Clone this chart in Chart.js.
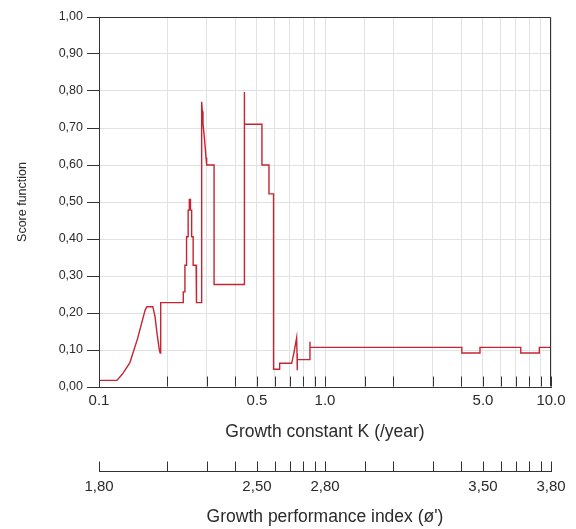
<!DOCTYPE html>
<html>
<head>
<meta charset="utf-8">
<script src="https://cdn.jsdelivr.net/npm/chart.js@4.4.1/dist/chart.umd.min.js"></script>
<style>
  html, body { margin: 0; padding: 0; background: #ffffff; }
  #wrap { width: 576px; height: 529px; position: relative; }
</style>
</head>
<body>
<div id="wrap"><canvas id="c" width="576" height="529"></canvas></div>
<script>
// Growth constant K (/year) along the curve
const kValues = [
  0.100, 0.120, 0.127, 0.137, 0.148, 0.160, 0.163, 0.173, 0.177, 0.181, 0.185, 0.1865,
  0.1875, 0.236, 0.236, 0.240, 0.240, 0.244, 0.244, 0.248, 0.248, 0.251,
  0.251, 0.254, 0.254, 0.257, 0.257, 0.261, 0.261, 0.269, 0.269, 0.2705, 0.2705,
  0.2846, 0.2846, 0.2865, 0.2885, 0.293, 0.2975, 0.2995, 0.323, 0.323,
  0.440, 0.440, 0.440, 0.526, 0.526, 0.565, 0.565, 0.592, 0.592,
  0.630, 0.630, 0.712, 0.730, 0.749, 0.752, 0.754, 0.754, 0.858, 0.858, 0.858,
  4.03, 4.03, 4.85, 4.85, 7.35, 7.35, 8.88, 8.88, 10.0
];
// Score function values matching kValues
const scoreValues = [
  0.018, 0.018, 0.035, 0.066, 0.130, 0.208, 0.217, 0.217, 0.190, 0.140, 0.100, 0.092,
  0.228, 0.228, 0.257, 0.257, 0.329, 0.329, 0.406, 0.406, 0.478, 0.478,
  0.507, 0.507, 0.478, 0.478, 0.406, 0.406, 0.329, 0.329, 0.257, 0.257, 0.228,
  0.228, 0.771, 0.745, 0.712, 0.670, 0.620, 0.600, 0.600, 0.277,
  0.277, 0.797, 0.710, 0.710, 0.600, 0.600, 0.522, 0.522, 0.048,
  0.048, 0.064, 0.064, 0.095, 0.133, 0.090, 0.045, 0.074, 0.074, 0.122, 0.107,
  0.107, 0.092, 0.092, 0.107, 0.107, 0.092, 0.092, 0.107, 0.107
];
// Labelled ticks
const kLabelTicks = [0.1, 0.5, 1, 5, 10];
const kTickLabels = ['0.1', '0.5', '1.0', '5.0', '10.0'];
const phiTickLabels = ['1,80', '2,50', '2,80', '3,50', '3,80'];
const yTickValues = [0, 0.1, 0.2, 0.3, 0.4, 0.5, 0.6, 0.7, 0.8, 0.9, 1.0];

const points = kValues.map((k, i) => ({ x: k, y: scoreValues[i] }));
const FONT = '"Liberation Sans", Arial, sans-serif';
const TEXT = '#2b2b2b';
const AXIS = '#333333';
const GRID = '#e2e2e2';

function labelFor(value, labels) {
  for (let i = 0; i < kLabelTicks.length; i++) {
    if (Math.abs(Math.log10(value) - Math.log10(kLabelTicks[i])) < 1e-6) return labels[i];
  }
  return '';
}

const frameAndTicks = {
  id: 'frameAndTicks',
  afterDraw(chart) {
    const { ctx, chartArea: a, scales } = chart;
    ctx.save();
    ctx.strokeStyle = AXIS;
    ctx.lineWidth = 1;
    const L = Math.round(a.left) + 0.5, R = Math.round(a.right) - 0.5;
    const T = Math.round(a.top) + 0.5, B = Math.round(a.bottom) - 0.5;
    ctx.beginPath();
    ctx.moveTo(L, T); ctx.lineTo(R, T); ctx.lineTo(R, B);
    ctx.stroke();
    // inward tick marks on K axis
    ctx.beginPath();
    scales.x.ticks.forEach(t => {
      const px = Math.round(scales.x.getPixelForValue(t.value)) + 0.5;
      ctx.moveTo(px, B); ctx.lineTo(px, B - 10);
    });
    // upward tick marks on phi' axis
    const top2 = Math.round(scales.x2.top) + 0.5;
    scales.x2.ticks.forEach(t => {
      const px = Math.round(scales.x2.getPixelForValue(t.value)) + 0.5;
      ctx.moveTo(px, top2); ctx.lineTo(px, top2 - 10);
    });
    ctx.stroke();
    ctx.restore();
  }
};

new Chart(document.getElementById('c'), {
  type: 'line',
  data: {
    datasets: [{
      data: points,
      borderColor: '#c62430',
      borderWidth: 1.4,
      pointRadius: 0,
      tension: 0,
      fill: false
    }]
  },
  options: {
    responsive: false,
    animation: false,
    events: [],
    layout: { padding: { top: 17, right: 25, bottom: 0, left: 0 } },
    plugins: { legend: { display: false }, tooltip: { enabled: false } },
    scales: {
      x: {
        type: 'logarithmic',
        position: 'bottom',
        weight: 0,
        min: 0.1, max: 10,
        afterFit(s) { s.height = 84; },
        grid: { color: GRID, drawTicks: false },
        border: { color: AXIS },
        ticks: {
          autoSkip: false, maxRotation: 0, minRotation: 0,
          padding: 4.5,
          color: TEXT, font: { family: FONT, size: 15 },
          callback: (v) => labelFor(v, kTickLabels)
        },
        title: {
          display: true, text: 'Growth constant K (/year)',
          color: TEXT, font: { family: FONT, size: 17.5 },
          padding: { top: 0, bottom: 28.5 }
        }
      },
      x2: {
        type: 'logarithmic',
        position: 'bottom',
        weight: 1,
        min: 0.1, max: 10,
        afterFit(s) { s.height = 58; },
        grid: { display: true, drawOnChartArea: false, drawTicks: false, color: GRID },
        border: { display: true, color: AXIS },
        ticks: {
          autoSkip: false, maxRotation: 0, minRotation: 0,
          padding: 7,
          color: TEXT, font: { family: FONT, size: 15 },
          callback: (v) => labelFor(v, phiTickLabels)
        },
        title: {
          display: true, text: "Growth performance index (\u00f8')",
          color: TEXT, font: { family: FONT, size: 17.5 },
          padding: { top: 0, bottom: 1.5 }
        }
      },
      y: {
        min: 0, max: 1,
        afterFit(s) { s.width = 99; },
        afterBuildTicks(s) { s.ticks = yTickValues.map(v => ({ value: v })); },
        grid: { color: GRID, tickColor: AXIS, tickLength: 12 },
        border: { color: AXIS },
        ticks: {
          padding: 4,
          color: TEXT, font: { family: FONT, size: 12.5 },
          callback: (v) => Number(v).toFixed(2).replace('.', ',')
        },
        title: {
          display: true, text: 'Score function',
          color: TEXT, font: { family: FONT, size: 12.5 },
          padding: { top: 15.5, bottom: 0 }
        }
      }
    }
  },
  plugins: [frameAndTicks]
});
</script>
</body>
</html>
